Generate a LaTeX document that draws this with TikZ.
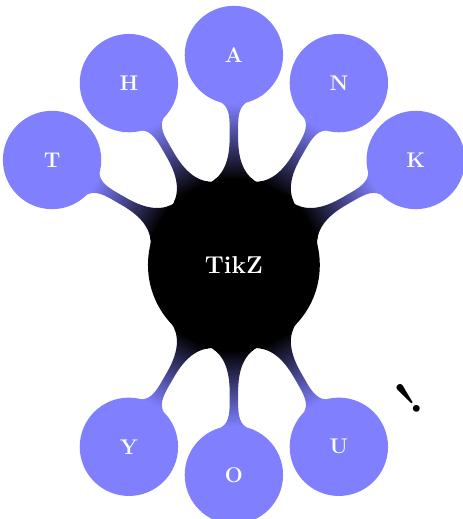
\documentclass[tikz,border=0pt]{standalone}
\usetikzlibrary{mindmap,backgrounds}
\begin{document}
\begin{tikzpicture}[mindmap, text=white,
  rootc/.style={concept, concept color=black, text width=2cm, inner sep=1pt, align=center, minimum size=4.05cm, font=\fontsize{16.5}{20}\selectfont\bfseries},
  leafc/.style={concept, concept color=blue!50, text width=1cm, inner sep=1pt, align=center, minimum size=2.3cm, font=\Large\bfseries},
  bar/.style={circle connection bar switch color=from (black) to (blue!50)}]
\useasboundingbox (-5.57,-6.05) rectangle (5.45,6.31);
\node[rootc] (root) at (0,0) {TikZ};
\foreach \n/\a/\t in {t/150/T, h/120/H, a/90/A, n/60/N, k/30/K, y/240/Y, o/270/O, u/300/U}
  \node[leafc] (\n) at (\a:5) {\t};
\begin{scope}[on background layer]
\foreach \n in {t,h,a,n,k,y,o,u}
  \path (root) to[bar] (\n);
\end{scope}
\node[text=black, rotate=38, font=\fontsize{32}{32}\selectfont\bfseries] (excl) at (4.16,-3.18) {!};
\end{tikzpicture}
\end{document}
